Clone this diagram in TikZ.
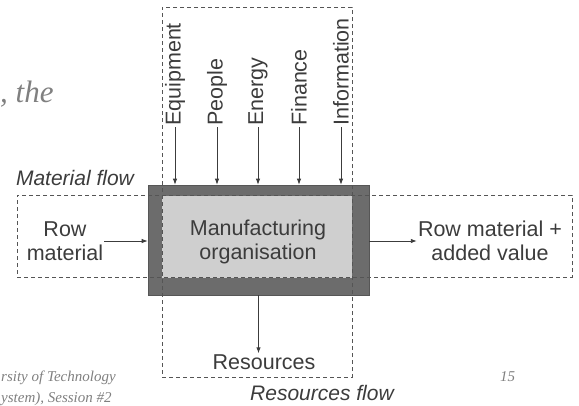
\documentclass[tikz,border=0pt]{standalone}
\usepackage{fontspec}
\setmainfont{Liberation Sans}
\newfontfamily\slidefont{Liberation Serif}
\usetikzlibrary{positioning,arrows.meta}
\definecolor{framecol}{HTML}{6C6C6C}
\definecolor{corecol}{HTML}{CFCFCF}
\definecolor{inkcol}{HTML}{3C3C3C}
\definecolor{dashcol}{HTML}{555555}
\definecolor{slidecol}{HTML}{808080}
\tikzset{
  org/.style={draw=framecol!80!black, line width=0.6pt, fill=framecol,
    minimum width=221pt, minimum height=110pt, inner sep=0pt},
  core/.style={fill=corecol, minimum width=190pt, minimum height=82pt,
    inner sep=0pt},
  flowbox/.style={draw=dashcol, line width=0.9pt, dash pattern=on 4pt off 3pt,
    inner sep=0pt},
  lab/.style={text=inkcol, align=center, inner sep=1pt},
  flowlab/.style={lab, font=\fontsize{21}{23}\selectfont\itshape},
  slide/.style={text=slidecol, inner sep=0pt, anchor=west,
    font=\fontsize{15}{17}\slidefont\itshape},
  arr/.style={-{Latex[length=6pt,width=4.5pt]}, draw=inkcol, line width=0.9pt}}

\begin{document}
\begin{tikzpicture}[x=1pt, y=-1pt, font=\fontsize{21.5}{23.5}\selectfont]
    \useasboundingbox (0,0) rectangle (579,405);
    % the organisation block
    \node[org] (frame) at (258.5,240) {};
    \node[core] (core) at (257,237) {};
    \node[lab] (orglab) at (258,242) {Manufacturing\\organisation};
    % material and resources flows
    \node[flowbox, minimum width=555pt, minimum height=82pt] (matflow) at (294.5,236) {};
    \node[flowbox, minimum width=190pt, minimum height=370pt] (resflow) at (257,192) {};
    \node[flowlab] (matlab) at (75,178) {Material flow};
    \node[flowlab] (reslab) at (322,393) {Resources flow};
    % inputs on top
    \foreach \n/\x/\t in {equip/175/Equipment, people/217/People, energy/258/Energy,
                          finance/299/Finance, info/341/Information}{
      \node[lab, rotate=90, anchor=west] (in-\n) at (\x,127) {\t};
      \draw[arr] (in-\n.west) -- (in-\n.west |- frame.north);
    }
    \node[lab] (rowin) at (65,241) {Row\\material};
    \node[lab] (rowout) at (490,241) {Row material +\\added value};
    \node[lab] (res) at (264,362) {Resources};
    \draw[arr] (rowin.east) -- (rowin.east -| frame.west);
    \draw[arr] (frame.east |- rowout.west) -- (rowout.west);
    \draw[arr] (frame.south) -- (frame.south |- res.north);
    % slide leftovers
    \node[slide, font=\fontsize{31}{33}\slidefont\itshape] (frag) at (0,94) {, the};
    \node[slide] (uni) at (1,378) {rsity of Technology};
    \node[slide] (sess) at (1,399) {ystem), Session \#2};
    \node[slide] (page) at (500,377) {15};
\end{tikzpicture}
\end{document}
